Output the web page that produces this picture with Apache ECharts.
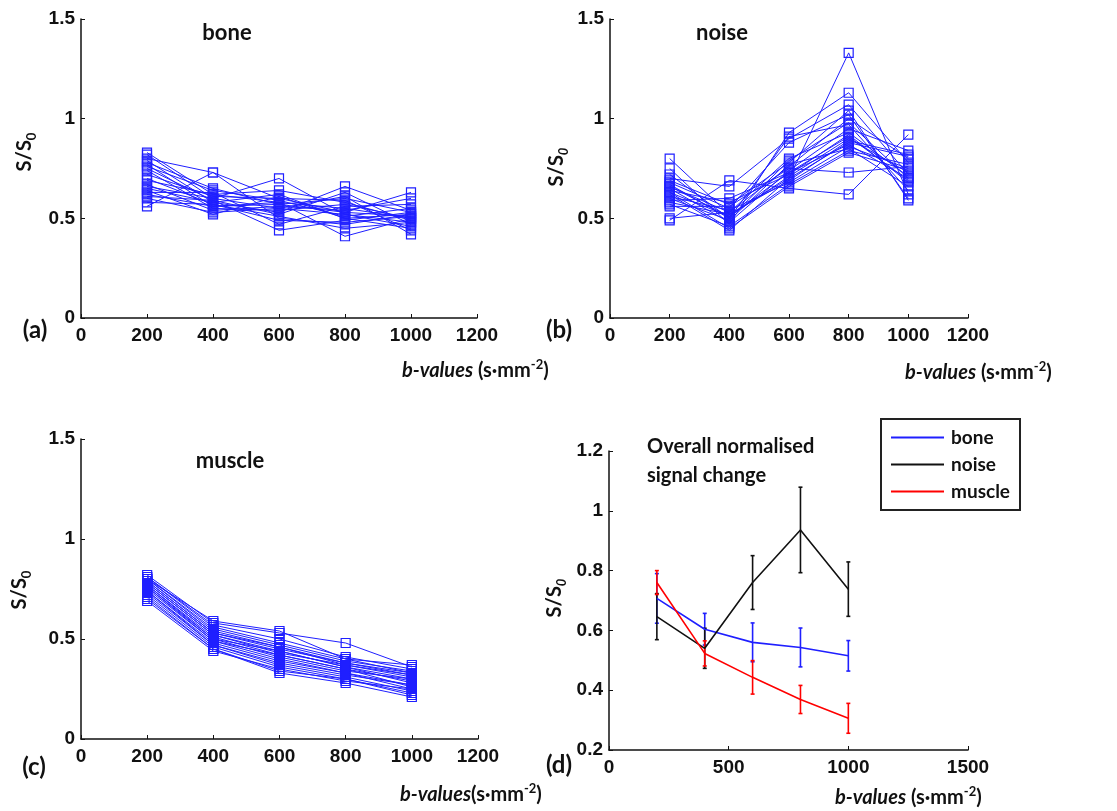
<!DOCTYPE html>
<html><head><meta charset="utf-8">
<script src="https://cdn.jsdelivr.net/npm/echarts@6/dist/echarts.min.js"></script>
<style>html,body{margin:0;padding:0;background:#fff}#c{width:1117px;height:811px}</style>
</head><body><div id="c"></div>
<script>
const bVals = [200, 400, 600, 800, 1000];
// Panel (a) bone: per-subject S/S0 at each b-value
const boneRuns = [
  [0.83,0.62,0.58,0.55,0.50],[0.82,0.60,0.55,0.52,0.48],[0.80,0.73,0.50,0.47,0.52],
  [0.79,0.58,0.62,0.50,0.45],[0.77,0.56,0.57,0.60,0.53],[0.76,0.64,0.59,0.51,0.55],
  [0.75,0.59,0.52,0.63,0.47],[0.74,0.55,0.54,0.57,0.50],[0.72,0.61,0.60,0.53,0.63],
  [0.70,0.57,0.49,0.48,0.51],[0.69,0.62,0.64,0.58,0.49],[0.67,0.54,0.56,0.54,0.60],
  [0.66,0.60,0.70,0.52,0.46],[0.65,0.58,0.53,0.66,0.54],[0.64,0.52,0.61,0.50,0.52],
  [0.63,0.63,0.47,0.56,0.57],[0.62,0.56,0.58,0.41,0.50],[0.61,0.59,0.44,0.49,0.53],
  [0.60,0.53,0.55,0.61,0.42],[0.58,0.57,0.51,0.45,0.48],[0.56,0.73,0.60,0.59,0.44],
  [0.78,0.65,0.57,0.53,0.51]
];
// Panel (b) noise
const noiseRuns = [
  [0.80,0.52,0.70,1.33,0.62],[0.75,0.47,0.93,1.13,0.78],[0.70,0.66,0.90,1.07,0.72],
  [0.68,0.55,0.88,1.02,0.60],[0.67,0.50,0.79,0.98,0.70],[0.66,0.53,0.76,1.00,0.80],
  [0.65,0.48,0.74,0.95,0.84],[0.64,0.58,0.72,0.92,0.68],[0.63,0.51,0.71,0.90,0.73],
  [0.62,0.44,0.70,0.88,0.81],[0.61,0.54,0.68,0.86,0.75],[0.60,0.49,0.77,0.85,0.66],
  [0.59,0.60,0.73,0.87,0.70],[0.58,0.52,0.69,0.89,0.82],[0.57,0.46,0.67,0.84,0.77],
  [0.56,0.56,0.75,0.73,0.76],[0.49,0.69,0.65,0.62,0.92],[0.50,0.53,0.80,0.93,0.71],
  [0.72,0.50,0.91,0.97,0.64],[0.69,0.57,0.78,1.04,0.59],[0.63,0.45,0.66,0.83,0.74],
  [0.66,0.51,0.73,0.91,0.69]
];
// Panel (c) muscle
const muscleRuns = [
  [0.82,0.58,0.53,0.48,0.36],[0.81,0.57,0.50,0.41,0.35],[0.81,0.56,0.48,0.40,0.37],
  [0.80,0.55,0.47,0.39,0.34],[0.80,0.54,0.46,0.38,0.33],[0.79,0.53,0.45,0.38,0.32],
  [0.79,0.53,0.46,0.37,0.31],[0.78,0.52,0.44,0.36,0.30],[0.78,0.52,0.43,0.37,0.32],
  [0.77,0.51,0.42,0.35,0.29],[0.77,0.50,0.44,0.36,0.28],[0.76,0.50,0.41,0.34,0.30],
  [0.76,0.49,0.40,0.33,0.27],[0.75,0.49,0.42,0.35,0.26],[0.74,0.48,0.39,0.33,0.25],
  [0.74,0.47,0.38,0.32,0.27],[0.73,0.47,0.37,0.31,0.24],[0.72,0.46,0.36,0.30,0.23],
  [0.71,0.45,0.34,0.30,0.22],[0.70,0.45,0.33,0.28,0.21],[0.69,0.44,0.35,0.29,0.25],
  [0.80,0.59,0.54,0.40,0.33]
];
// Panel (d) overall means and standard deviations
const boneMean   = [0.707,0.604,0.560,0.543,0.515];
const boneSd     = [0.083,0.053,0.065,0.065,0.051];
const noiseMean  = [0.646,0.540,0.760,0.936,0.738];
const noiseSd    = [0.077,0.067,0.090,0.143,0.091];
const muscleMean = [0.760,0.523,0.443,0.369,0.306];
const muscleSd   = [0.040,0.042,0.056,0.047,0.050];
const legendNames = ['bone','noise','muscle'];

const BLUE = '#1f1fff';
const TICKF = 'Liberation Sans';
const TXTF = 'Lato';

const grids = [
  {left:81, top:19, width:396, height:299},
  {left:610, top:19, width:358, height:299},
  {left:81, top:439, width:397, height:300},
  {left:609, top:451, width:359, height:299}
];
function xAx(i, max, interval){
  return {type:'value', gridIndex:i, min:0, max:max, interval:interval,
    axisLine:{show:true, onZero:false, lineStyle:{color:'#111', width:1.5}},
    axisTick:{show:true, inside:true, length:4, lineStyle:{color:'#111'}},
    splitLine:{show:false},
    axisLabel:{color:'#111', fontFamily:TICKF, fontWeight:'bold', fontSize:19, margin:8,
      formatter: v => String(v)}};
}
function yAx(i, min, max, interval){
  return {type:'value', gridIndex:i, min:min, max:max, interval:interval,
    axisLine:{show:true, onZero:false, lineStyle:{color:'#111', width:1.5}},
    axisTick:{show:true, inside:true, length:4, lineStyle:{color:'#111'}},
    splitLine:{show:false},
    axisLabel:{color:'#111', fontFamily:TICKF, fontWeight:'bold', fontSize:19, margin:6}};
}
function runSeries(runs, idx){
  return runs.map(r => ({type:'line', xAxisIndex:idx, yAxisIndex:idx,
    data: bVals.map((b,i)=>[b, r[i]]), symbol:'rect', symbolSize:9, showAllSymbol:true,
    lineStyle:{color:BLUE, width:1}, itemStyle:{color:'rgba(0,0,0,0)', borderColor:BLUE, borderWidth:1.2},
    silent:true, animation:false}));
}
function meanSeries(name, mean, color){
  return {type:'line', name:name, xAxisIndex:3, yAxisIndex:3, data: bVals.map((b,i)=>[b, mean[i]]),
    symbol:'none', lineStyle:{color:color, width:1.6}, itemStyle:{color:color}, animation:false, z:4};
}
function errSeries(mean, sd, color){
  return {type:'custom', xAxisIndex:3, yAxisIndex:3, animation:false, silent:true, z:3,
    data: bVals.map((b,i)=>[b, mean[i]-sd[i], mean[i]+sd[i]]),
    encode:{x:0, y:[1,2]},
    renderItem:function(p, api){
      const lo = api.coord([api.value(0), api.value(1)]);
      const hi = api.coord([api.value(0), api.value(2)]);
      const st = {stroke:color, lineWidth:1.6};
      return {type:'group', children:[
        {type:'line', shape:{x1:lo[0], y1:lo[1], x2:hi[0], y2:hi[1]}, style:st},
        {type:'line', shape:{x1:lo[0]-2, y1:lo[1], x2:lo[0]+2, y2:lo[1]}, style:st},
        {type:'line', shape:{x1:hi[0]-2, y1:hi[1], x2:hi[0]+2, y2:hi[1]}, style:st}
      ]};
    }};
}
const yNameRich = {
  n:{fontFamily:TXTF, fontWeight:'bold', fontSize:20, lineHeight:26, verticalAlign:'middle', fill:'#111'},
  s:{fontFamily:TXTF, fontWeight:'bold', fontSize:13, lineHeight:26, verticalAlign:'bottom', fill:'#111'},
  si:{fontFamily:TXTF, fontWeight:'bold', fontStyle:'italic', fontSize:13, lineHeight:26, verticalAlign:'bottom', fill:'#111'}
};
function yName(x, y, italic){
  return {type:'text', x:x, y:y, rotation:Math.PI/2,
    style:{text: italic ? '{n|S/S}{si|0}' : '{n|S/S}{s|0}', rich:yNameRich, align:'center', verticalAlign:'middle'}};
}
const xNameRich = {
  i:{fontFamily:TXTF, fontWeight:'bold', fontStyle:'italic', fontSize:20, lineHeight:26, verticalAlign:'middle', fill:'#111'},
  n:{fontFamily:TXTF, fontWeight:'bold', fontSize:20, lineHeight:26, verticalAlign:'middle', fill:'#111'},
  p:{fontFamily:TXTF, fontWeight:'bold', fontSize:13, lineHeight:26, verticalAlign:'top', fill:'#111'}
};
function xName(x, y, gap){
  return {type:'text', x:x, y:y,
    style:{text:'{i|b-values}' + (gap ? '{n| (s·mm}' : '{n|(s·mm}') + '{p|-2}{n|)}', rich:xNameRich, align:'left', verticalAlign:'middle'}};
}
function label(x, y, t, size, align){
  return {type:'text', x:x, y:y, style:{text:t, fontFamily:TXTF, fontWeight:'bold', fontSize:size, fill:'#111', align:align||'center', verticalAlign:'middle'}};
}

const option = {
  backgroundColor:'#fff',
  animation:false,
  grid: grids,
  xAxis: [xAx(0,1200,200), xAx(1,1200,200), xAx(2,1200,200), xAx(3,1500,500)],
  yAxis: [yAx(0,0,1.5,0.5), yAx(1,0,1.5,0.5), yAx(2,0,1.5,0.5), yAx(3,0.2,1.2,0.2)],
  legend: {data: legendNames, left:881, top:419, width:140, orient:'vertical',
    borderColor:'#222', borderWidth:2, borderRadius:0, padding:[9,10,9,10], itemGap:8,
    icon:'rect', itemWidth:53, itemHeight:2, selectedMode:false,
    textStyle:{fontFamily:TXTF, fontWeight:'bold', fontSize:19, color:'#111', padding:[0,0,0,2]}},
  series: [].concat(
    runSeries(boneRuns,0), runSeries(noiseRuns,1), runSeries(muscleRuns,2),
    [errSeries(boneMean, boneSd, BLUE), errSeries(noiseMean, noiseSd, '#111'), errSeries(muscleMean, muscleSd, '#ff0000'),
     meanSeries(legendNames[0], boneMean, BLUE), meanSeries(legendNames[1], noiseMean, '#111'), meanSeries(legendNames[2], muscleMean, '#ff0000')]
  ),
  graphic: [
    label(227, 33, 'bone', 22), label(722, 33, 'noise', 22), label(230, 461, 'muscle', 22),
    label(647, 447, 'Overall normalised', 20, 'left'), label(647, 476, 'signal change', 20, 'left'),
    label(35, 330, '(a)', 24), label(559, 330, '(b)', 24), label(34, 767, '(c)', 24), label(559, 765, '(d)', 24),
    yName(25, 152, false), yName(557, 167, true), yName(20, 590, false), yName(555, 598, true),
    xName(402, 371, true), xName(905, 373, true), xName(400, 795, false), xName(835, 798, true)
  ]
};
const chart = echarts.init(document.getElementById('c'), null, {renderer:'canvas'});
chart.setOption(option);
</script>
</body></html>
